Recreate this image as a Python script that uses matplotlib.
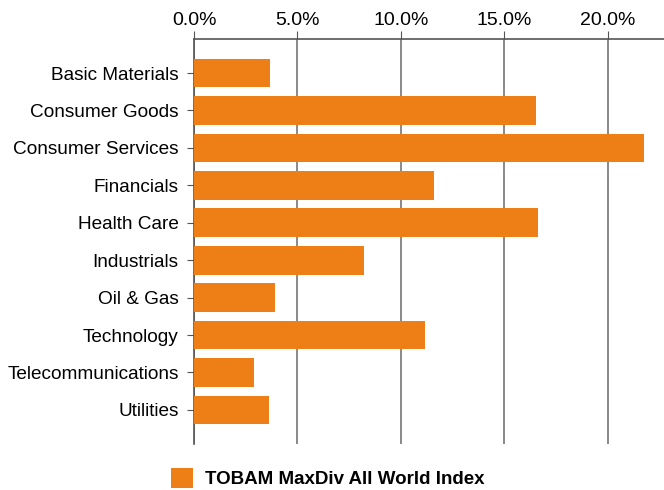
import matplotlib.pyplot as plt
from matplotlib.ticker import FuncFormatter
from matplotlib.patches import Patch

categories = ['Basic Materials', 'Consumer Goods', 'Consumer Services', 'Financials',
              'Health Care', 'Industrials', 'Oil & Gas', 'Technology',
              'Telecommunications', 'Utilities']
weights = [3.66, 16.54, 21.76, 11.63, 16.63, 8.21, 3.92, 11.19, 2.89, 3.62]
series_name = 'TOBAM MaxDiv All World Index'
bar_color = '#EE7F16'

plt.rcParams['font.family'] = ['Liberation Sans', 'DejaVu Sans']

fig = plt.figure(figsize=(6.64, 4.9), dpi=100)
ax = fig.add_axes([0.2922, 0.0939, 0.7078, 0.8265])

ypos = list(range(len(categories)))
ax.barh(ypos, weights, height=0.77, color=bar_color, zorder=3)

ax.set_xlim(0, 22.73)
ax.set_ylim(9.91, -0.91)
ax.set_yticks(ypos)
ax.set_yticklabels(categories, fontsize=13.7)
ax.set_xticks([0, 5, 10, 15, 20])
ax.xaxis.set_major_formatter(FuncFormatter(lambda v, p: f'{v:.1f}%'))
ax.xaxis.tick_top()
ax.tick_params(axis='x', labelsize=14, length=6, color='#555555', pad=1)
ax.tick_params(axis='y', length=5, color='#555555', pad=6)
ax.grid(axis='x', color='#808080', linewidth=1.3, zorder=0)

for s in ['right', 'bottom']:
    ax.spines[s].set_visible(False)
ax.spines['top'].set_color('#555555')
ax.spines['left'].set_color('#555555')
ax.spines['top'].set_linewidth(1.2)
ax.spines['left'].set_linewidth(1.2)

handle = Patch(facecolor=bar_color, edgecolor='none')
fig.legend([handle], [series_name], loc='lower left', bbox_to_anchor=(0.232, -0.031),
           frameon=False, prop={'weight': 'bold', 'size': 13.5},
           handlelength=1.2, handleheight=1.3, handletextpad=0.6)

fig.savefig('out.png', dpi=100)
